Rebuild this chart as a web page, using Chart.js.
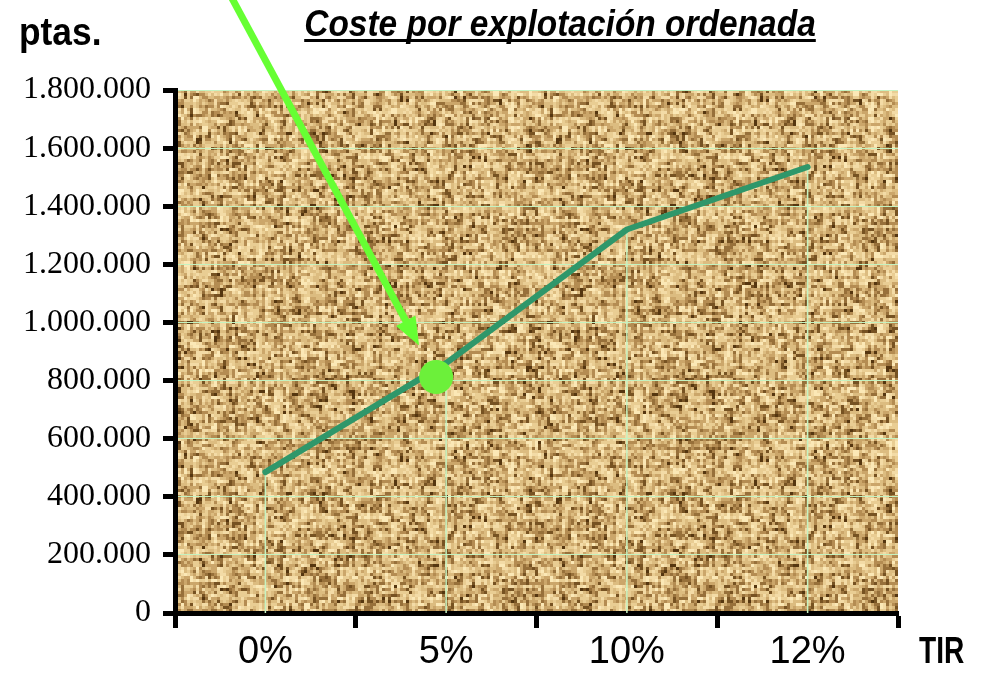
<!DOCTYPE html>
<html>
<head>
<meta charset="utf-8">
<script src="https://cdn.jsdelivr.net/npm/chart.js@4/dist/chart.umd.min.js"></script>
<style>
  html, body { margin: 0; padding: 0; background: #fff; }
  #wrap { width: 982px; height: 682px; }
</style>
</head>
<body>
<div id="wrap"><canvas id="c" width="982" height="682"></canvas></div>
<script>
// Cost per organised holding (pesetas) against internal rate of return
const tirLabels = ['0%', '5%', '10%', '12%'];
const costValues = [485000, 860000, 1320000, 1535000];
const yTicks = [0, 200000, 400000, 600000, 800000, 1000000, 1200000, 1400000, 1600000, 1800000];
// Highlighted reading: position along the TIR axis (category index) and its cost
const highlightPos = [0.945];
const highlightCost = [812000];

const titleText = 'Coste por explotación ordenada';
const yUnitText = 'ptas.';
const xUnitText = 'TIR';

function fmtThousands(v) {
  return String(v).replace(/\B(?=(\d{3})+(?!\d))/g, '.');
}

// Woven sack-cloth texture used as the plot background (basket weave of 3px threads)
function makeWeave() {
  const S = 3, N = 120;
  const c = document.createElement('canvas');
  c.width = c.height = S * N;
  const g = c.getContext('2d');
  const pal = ['#fbe8b6', '#f3dba6', '#e9cd93', '#dcbc80', '#cba66a', '#b48c52', '#97703a', '#765222', '#553610'];
  const h = (a, b) => {
    let x = (Math.imul(a, 374761393) + Math.imul(b, 668265263)) | 0;
    x = Math.imul(x ^ (x >>> 13), 1274126177);
    return ((x ^ (x >>> 16)) >>> 0) / 4294967296;
  };
  for (let i = 0; i < N; i++) {
    for (let j = 0; j < N; j++) {
      const bx = Math.floor(i / 3), by = Math.floor(j / 3);
      const horiz = (bx + by) % 2 === 0;
      const t = horiz ? h(j + 17, bx * 7 + 1) : h(i + 1000, by * 7 + 3);
      const n = h(i * 3 + 5, j * 5 + 11);
      let v = 0.62 * t + 0.38 * n;
      const edge = horiz ? (i % 3 === 2) : (j % 3 === 2);
      if (edge) v = v * 0.8 + 0.22;
      v = Math.min(0.999, Math.max(0, v));
      const k = Math.floor(Math.pow(v, 1.4) * pal.length);
      g.fillStyle = pal[Math.min(pal.length - 1, k)];
      g.fillRect(i * S, j * S, S, S);
    }
  }
  return c;
}

const weaveCanvas = makeWeave();

const backdrop = {
  id: 'backdrop',
  beforeDraw(chart) {
    const { ctx, chartArea: a } = chart;
    ctx.save();
    ctx.fillStyle = '#ffffff';
    ctx.fillRect(0, 0, chart.width, chart.height);
    const pat = ctx.createPattern(weaveCanvas, 'repeat');
    ctx.translate(a.left, a.top);
    ctx.fillStyle = pat;
    ctx.fillRect(0, 0, a.right - a.left, a.bottom - a.top);
    ctx.restore();
  }
};

const dropLines = {
  id: 'dropLines',
  beforeDatasetsDraw(chart) {
    const { ctx, chartArea: a } = chart;
    const meta = chart.getDatasetMeta(0);
    ctx.save();
    ctx.strokeStyle = '#c6f3c2';
    ctx.lineWidth = 1.5;
    meta.data.forEach(p => {
      ctx.beginPath();
      ctx.moveTo(p.x, p.y);
      ctx.lineTo(p.x, a.bottom);
      ctx.stroke();
    });
    ctx.restore();
  }
};

const highlight = {
  id: 'highlight',
  afterDatasetsDraw(chart) {
    const { ctx } = chart;
    const xs = chart.scales.x, ys = chart.scales.y;
    ctx.save();
    highlightPos.forEach((pos, i) => {
      const cx = xs.getPixelForDecimal((pos + 0.5) / tirLabels.length);
      const cy = ys.getPixelForValue(highlightCost[i]);
      // marker dot
      ctx.fillStyle = '#6cf03a';
      ctx.beginPath();
      ctx.arc(cx, cy, 17, 0, Math.PI * 2);
      ctx.fill();
      // pointer arrow coming down from the top edge
      const dx = 0.475, dy = 0.88;
      const tipX = cx - dx * 36, tipY = cy - dy * 36;
      const tailX = tipX - dx * (tipY / dy) - dx * 4, tailY = -4;
      const headLen = 28, headHalf = 11;
      const bx = tipX - dx * headLen, by = tipY - dy * headLen;
      ctx.strokeStyle = '#66ff33';
      ctx.lineWidth = 7;
      ctx.lineCap = 'butt';
      ctx.beginPath();
      ctx.moveTo(tailX, tailY);
      ctx.lineTo(bx + dx * 4, by + dy * 4);
      ctx.stroke();
      ctx.fillStyle = '#66ff33';
      ctx.beginPath();
      ctx.moveTo(tipX, tipY);
      ctx.lineTo(bx - dy * headHalf, by + dx * headHalf);
      ctx.lineTo(bx + dy * headHalf, by - dx * headHalf);
      ctx.closePath();
      ctx.fill();
    });
    ctx.restore();
  }
};

// draws text squeezed horizontally (narrow bold face)
function narrowText(ctx, text, x, y, sx, align) {
  ctx.save();
  ctx.translate(x, y);
  ctx.scale(sx, 1);
  ctx.textAlign = align;
  ctx.fillText(text, 0, 0);
  const w = ctx.measureText(text).width * sx;
  ctx.restore();
  return w;
}

const captions = {
  id: 'captions',
  afterDraw(chart) {
    const { ctx } = chart;
    ctx.save();
    ctx.fillStyle = '#000';
    ctx.textBaseline = 'alphabetic';
    // title, underlined
    ctx.font = 'italic bold 36px "Liberation Sans", Arial, sans-serif';
    const tx = 560, ty = 36;
    const w = narrowText(ctx, titleText, tx, ty, 0.93, 'center');
    ctx.fillRect(tx - w / 2, ty + 3, w, 3);
    // unit labels
    ctx.font = 'bold 38px "Liberation Sans", Arial, sans-serif';
    narrowText(ctx, yUnitText, 19, 45, 0.93, 'left');
    ctx.font = 'bold 37px "Liberation Sans", Arial, sans-serif';
    narrowText(ctx, xUnitText, 919, 663, 0.76, 'left');
    ctx.restore();
  }
};

new Chart(document.getElementById('c'), {
  type: 'line',
  data: {
    labels: tirLabels,
    datasets: [{
      data: costValues,
      borderColor: '#2f976a',
      borderWidth: 6,
      borderCapStyle: 'round',
      borderJoinStyle: 'round',
      pointRadius: 0,
      tension: 0,
      fill: false
    }]
  },
  options: {
    responsive: false,
    animation: false,
    devicePixelRatio: 1,
    layout: { padding: { top: 90, right: 84, left: 0, bottom: 0 } },
    plugins: { legend: { display: false }, tooltip: { enabled: false }, title: { display: false } },
    scales: {
      x: {
        offset: true,
        grid: {
          offset: true,
          drawOnChartArea: false,
          tickColor: '#000',
          tickWidth: 5,
          tickLength: 15
        },
        border: { color: '#000', width: 5 },
        ticks: {
          color: '#000',
          padding: 4,
          maxRotation: 0,
          font: { family: '"Liberation Sans", Arial, sans-serif', size: 38, lineHeight: 1.1 }
        },
        afterFit(scale) { scale.height = 69; }
      },
      y: {
        min: 0,
        max: 1800000,
        afterBuildTicks(scale) { scale.ticks = yTicks.map(v => ({ value: v })); },
        grid: {
          color: '#c4f2c0',
          lineWidth: 1,
          tickColor: '#000',
          tickWidth: 5,
          tickLength: 12
        },
        border: { color: '#000', width: 5 },
        ticks: {
          color: '#000',
          padding: 12,
          callback: v => fmtThousands(v),
          font: { family: '"Liberation Serif", "Times New Roman", serif', size: 32 }
        },
        afterFit(scale) { scale.width = 175; }
      }
    }
  },
  plugins: [backdrop, dropLines, highlight, captions]
});
</script>
</body>
</html>
